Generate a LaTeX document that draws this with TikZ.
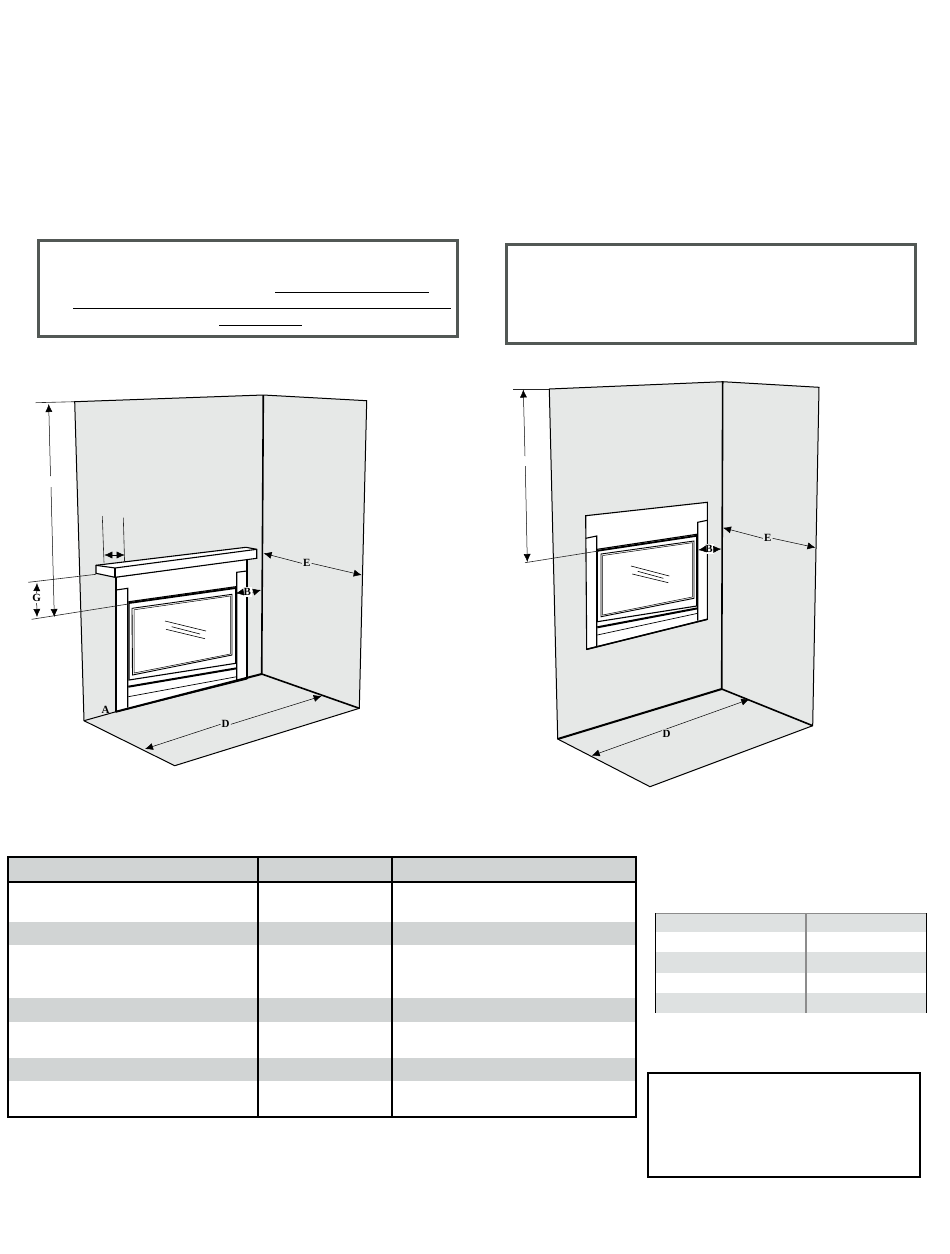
\documentclass[tikz,border=0pt]{standalone}
\usepackage{fontspec}
\setmainfont{Liberation Serif}
\usetikzlibrary{arrows.meta}
\definecolor{wallgray}{RGB}{230,232,231}
\definecolor{rowgray}{RGB}{209,212,212}
\definecolor{lightrow}{RGB}{222,225,225}
\definecolor{boxgray}{RGB}{82,88,85}
\tikzset{
  wall/.style={fill=wallgray, draw=black, line width=1pt, line join=miter},
  thinline/.style={draw=black!85, line width=0.6pt},
  piece/.style={draw=black, line width=1.1pt},
  heavy/.style={draw=black, line width=2pt},
  dimtip/.tip={Latex[length=8pt,width=7pt]},
  dimline/.style={draw=black, line width=0.5pt, -dimtip},
  letter/.style={font=\bfseries\fontsize{11}{11}\selectfont, inner sep=1pt},
  letterbg/.style={letter, fill=white, inner sep=1.5pt},
  frame/.style={draw=boxgray, line width=3pt},
  rule/.style={draw=black, line width=1.3pt},
  tableline/.style={draw=black, line width=2pt}
}

\begin{document}
\begin{tikzpicture}[x=1pt, y=-1pt]
  \useasboundingbox[fill=white] (0, 0) rectangle (950, 1254);

  % notice boxes
  \draw[frame] (38.6, 240.6) rectangle (457.8, 336);
  \draw[frame] (506.4, 244.6) rectangle (915.6, 343);
  \coordinate (ruleA) at (275, 292.5);   \coordinate (ruleB) at (429, 292.5);
  \coordinate (ruleC) at (73, 308.5);    \coordinate (ruleD) at (451, 308.5);
  \coordinate (ruleE) at (219, 325.5);   \coordinate (ruleF) at (302, 325.5);
  \draw[rule] (ruleA) -- (ruleB);
  \draw[rule] (ruleC) -- (ruleD);
  \draw[rule] (ruleE) -- (ruleF);

  % left room
  \filldraw[wall] (74.7, 401.7) -- (263.3, 395) -- (366.7, 400.7) -- (359.3, 708.3)
    -- (174.7, 765.7) -- (84, 720.7) -- cycle;
  \draw[line width=1.6pt] (263.3, 395) -- (261.7, 674) -- (359.3, 708.3);
  \draw[line width=1pt] (84, 720.7) -- (116, 711.7);

  \draw[thinline] (35.7, 402.7) -- (74.7, 401.7);
  \draw[thinline] (28.3, 582.3) -- (96, 574.3);
  \draw[thinline] (102.3, 516) -- (104, 562.7);
  \draw[thinline] (123.3, 517.7) -- (124.7, 566);

  % left surround and mantel
  \filldraw[fill=white, piece] (116, 577) -- (246.7, 559) -- (246.7, 679) -- (116, 711.7) -- cycle;
  \draw[heavy] (116, 711.7) -- (261.7, 674);
  \draw[line width=1.7pt] (116, 577) -- (116, 711.7);
  \draw[line width=1.7pt] (246.7, 559) -- (246.7, 679);
  \draw[piece] (116, 590) -- (127.7, 588.3) -- (127.7, 707.7);
  \draw[piece] (236.7, 680) -- (236.7, 572.3) -- (246.7, 571);
  \filldraw[fill=white, piece] (96, 565.3) -- (246, 547.3) -- (256.7, 549.3) -- (256.7, 558.3)
    -- (115, 577.3) -- (96, 573.3) -- cycle;
  \draw[piece] (96, 565.3) -- (115, 568) -- (256.7, 549.3);
  \draw[piece] (115, 568) -- (115, 577.3);

  % left firebox
  \draw[piece] (129, 680) -- (129, 601.7) -- (235.7, 586.7) -- (235.7, 663.3) -- cycle;
  \draw[line width=1.8pt] (129, 603) -- (235.7, 588);
  \draw[line width=0.9pt] (132, 608.3) -- (232, 594.3) -- (232, 655) -- (132.5, 675) -- cycle;
  \draw[line width=0.5pt] (134, 609.8) -- (230.4, 596) -- (230.4, 654) -- (134.2, 673) -- cycle;
  \draw[line width=2pt] (128.3, 686.7) -- (236.7, 668.3);
  \draw[line width=0.7pt] (128.3, 696.7) -- (236.7, 676.7);
  \draw[line width=0.6pt] (165, 621) -- (206, 631);
  \draw[line width=0.6pt] (171.7, 626.7) -- (200, 634);
  \draw[line width=0.6pt] (166, 629.3) -- (205, 638.7);

  % left dimensions
  \draw[thinline] (31.7, 619.3) -- (128.3, 604);
  \coordinate (heightTop) at (48.7, 404);
  \coordinate (heightGapA) at (50.5, 476);
  \coordinate (heightGapB) at (51, 487);
  \coordinate (heightBot) at (54.3, 617);
  \draw[dimline] (heightGapA) -- (heightTop);
  \draw[dimline] (heightGapB) -- (heightBot);
  \node[letter] (labelG) at (36.7, 598.3) {G};
  \coordinate (gTop) at (37, 583);
  \coordinate (gBot) at (37, 617);
  \draw[dimline] (labelG.north) -- (gTop);
  \draw[dimline] (labelG.south) -- (gBot);
  \coordinate (mantelL) at (104.3, 555);
  \coordinate (mantelR) at (124.7, 555);
  \draw[dimline, dimtip-dimtip] (mantelL) -- (mantelR);
  \node[letterbg] (labelB) at (247.3, 592.3) {B};
  \coordinate (bLeft) at (235.8, 593.3);
  \coordinate (bRight) at (261, 590);
  \draw[dimline] (labelB.west) -- (bLeft);
  \draw[dimline] (labelB.east) -- (bRight);
  \node[letter] (labelE) at (306.7, 563.3) {E};
  \coordinate (eLeft) at (263.6, 553.3);
  \coordinate (eRight) at (361.7, 575);
  \draw[dimline] (labelE.west) -- (eLeft);
  \draw[dimline] (labelE.east) -- (eRight);
  \node[letter] (labelD) at (225.7, 724.3) {D};
  \coordinate (dLeft) at (145, 749);
  \coordinate (dRight) at (321.7, 696);
  \draw[dimline] (labelD.west) -- (dLeft);
  \draw[dimline] (labelD.east) -- (dRight);
  \node[letter] (labelA) at (105.7, 710) {A};

  % right room
  \filldraw[wall] (549.3, 389) -- (722.7, 381.7) -- (819, 387.3) -- (812.7, 725.7)
    -- (650, 786.7) -- (557.7, 739) -- cycle;
  \draw[line width=1.6pt] (722.7, 381.7) -- (721.7, 689) -- (812.7, 725.7);
  \draw[heavy] (557.7, 739) -- (721.7, 689);
  \draw[thinline] (513.3, 389) -- (549.3, 389);

  % right surround
  \filldraw[fill=white, piece] (585.7, 515.7) -- (707.3, 502.3) -- (707.3, 619.3) -- (586.7, 649.3) -- cycle;
  \draw[line width=1.5pt] (586.7, 649.3) -- (707.3, 619.3);
  \draw[piece] (585.7, 538.3) -- (596.7, 536) -- (596.7, 646.7);
  \draw[piece] (697.7, 620.7) -- (697.7, 522.3) -- (707.3, 520.3);

  % right firebox
  \draw[piece] (597.3, 621.7) -- (597.3, 549.3) -- (696.7, 534.3) -- (696.7, 606) -- cycle;
  \draw[line width=1.8pt] (597.3, 550.8) -- (696.7, 535.8);
  \draw[line width=0.9pt] (601, 554) -- (694, 541) -- (694, 598.3) -- (601, 616.7) -- cycle;
  \draw[line width=0.5pt] (602.7, 555.5) -- (692.3, 542.7) -- (692.3, 597) -- (602.7, 615) -- cycle;
  \draw[line width=2pt] (597.3, 627.3) -- (697.7, 608.3);
  \draw[line width=0.7pt] (597.3, 635) -- (697.7, 613.3);
  \draw[line width=0.6pt] (631, 566) -- (669.3, 576);
  \draw[line width=0.6pt] (637.7, 571.3) -- (663.3, 578.3);
  \draw[line width=0.6pt] (632.3, 574) -- (668.3, 582.7);

  % right dimensions
  \draw[thinline] (525, 562.7) -- (598.3, 551);
  \coordinate (rheightTop) at (523.3, 389.5);
  \coordinate (rheightGapA) at (525, 456);
  \coordinate (rheightGapB) at (525.3, 466);
  \coordinate (rheightBot) at (527.3, 562);
  \draw[dimline] (rheightGapA) -- (rheightTop);
  \draw[dimline] (rheightGapB) -- (rheightBot);
  \node[letterbg] (rlabelB) at (709, 549.3) {B};
  \coordinate (rbLeft) at (698.3, 550);
  \coordinate (rbRight) at (721.3, 549);
  \draw[dimline] (rlabelB.west) -- (rbLeft);
  \draw[dimline] (rlabelB.east) -- (rbRight);
  \node[letter] (rlabelE) at (767.7, 538.3) {E};
  \coordinate (reLeft) at (723, 527.8);
  \coordinate (reRight) at (815.5, 547.6);
  \draw[dimline] (rlabelE.west) -- (reLeft);
  \draw[dimline] (rlabelE.east) -- (reRight);
  \coordinate (rdLeft) at (591.7, 755.7);
  \coordinate (rdRight) at (749.3, 699.3);
  \draw[dimline, dimtip-dimtip] (rdLeft) -- (rdRight);
  \node[letter, fill=wallgray] (rlabelD) at (666.7, 734) {D};

  % main table
  \fill[rowgray] (7.3, 857) rectangle (636.4, 881.7);
  \foreach \ya/\yb in {921.7/945, 998.3/1022, 1058.3/1081} {
    \fill[rowgray] (7.3, \ya) rectangle (636.4, \yb);
  }
  \draw[tableline] (8, 881.7) -- (636, 881.7);
  \draw[tableline] (8, 857) rectangle (636, 1116.5);
  \foreach \x in {258, 391.5} {
    \draw[tableline] (\x, 857) -- (\x, 1116.5);
  }

  % small table
  \fill[lightrow] (655.8, 913) rectangle (927, 932.3);
  \foreach \ya/\yb in {952.3/972.7, 992.7/1013.3} {
    \fill[lightrow] (655.8, \ya) rectangle (927, \yb);
  }
  \draw[draw=black!45, line width=1pt] (655.8, 913) -- (927, 913);
  \draw[draw=black!45, line width=1.2pt] (806, 913) -- (806, 1013.3);
  \foreach \x in {655.8, 926.5} {
    \draw[line width=1.2pt] (\x, 913) -- (\x, 1013.3);
  }

  % note box
  \draw[line width=2pt] (647.5, 1073.2) rectangle (919.8, 1177.4);
\end{tikzpicture}
\end{document}
